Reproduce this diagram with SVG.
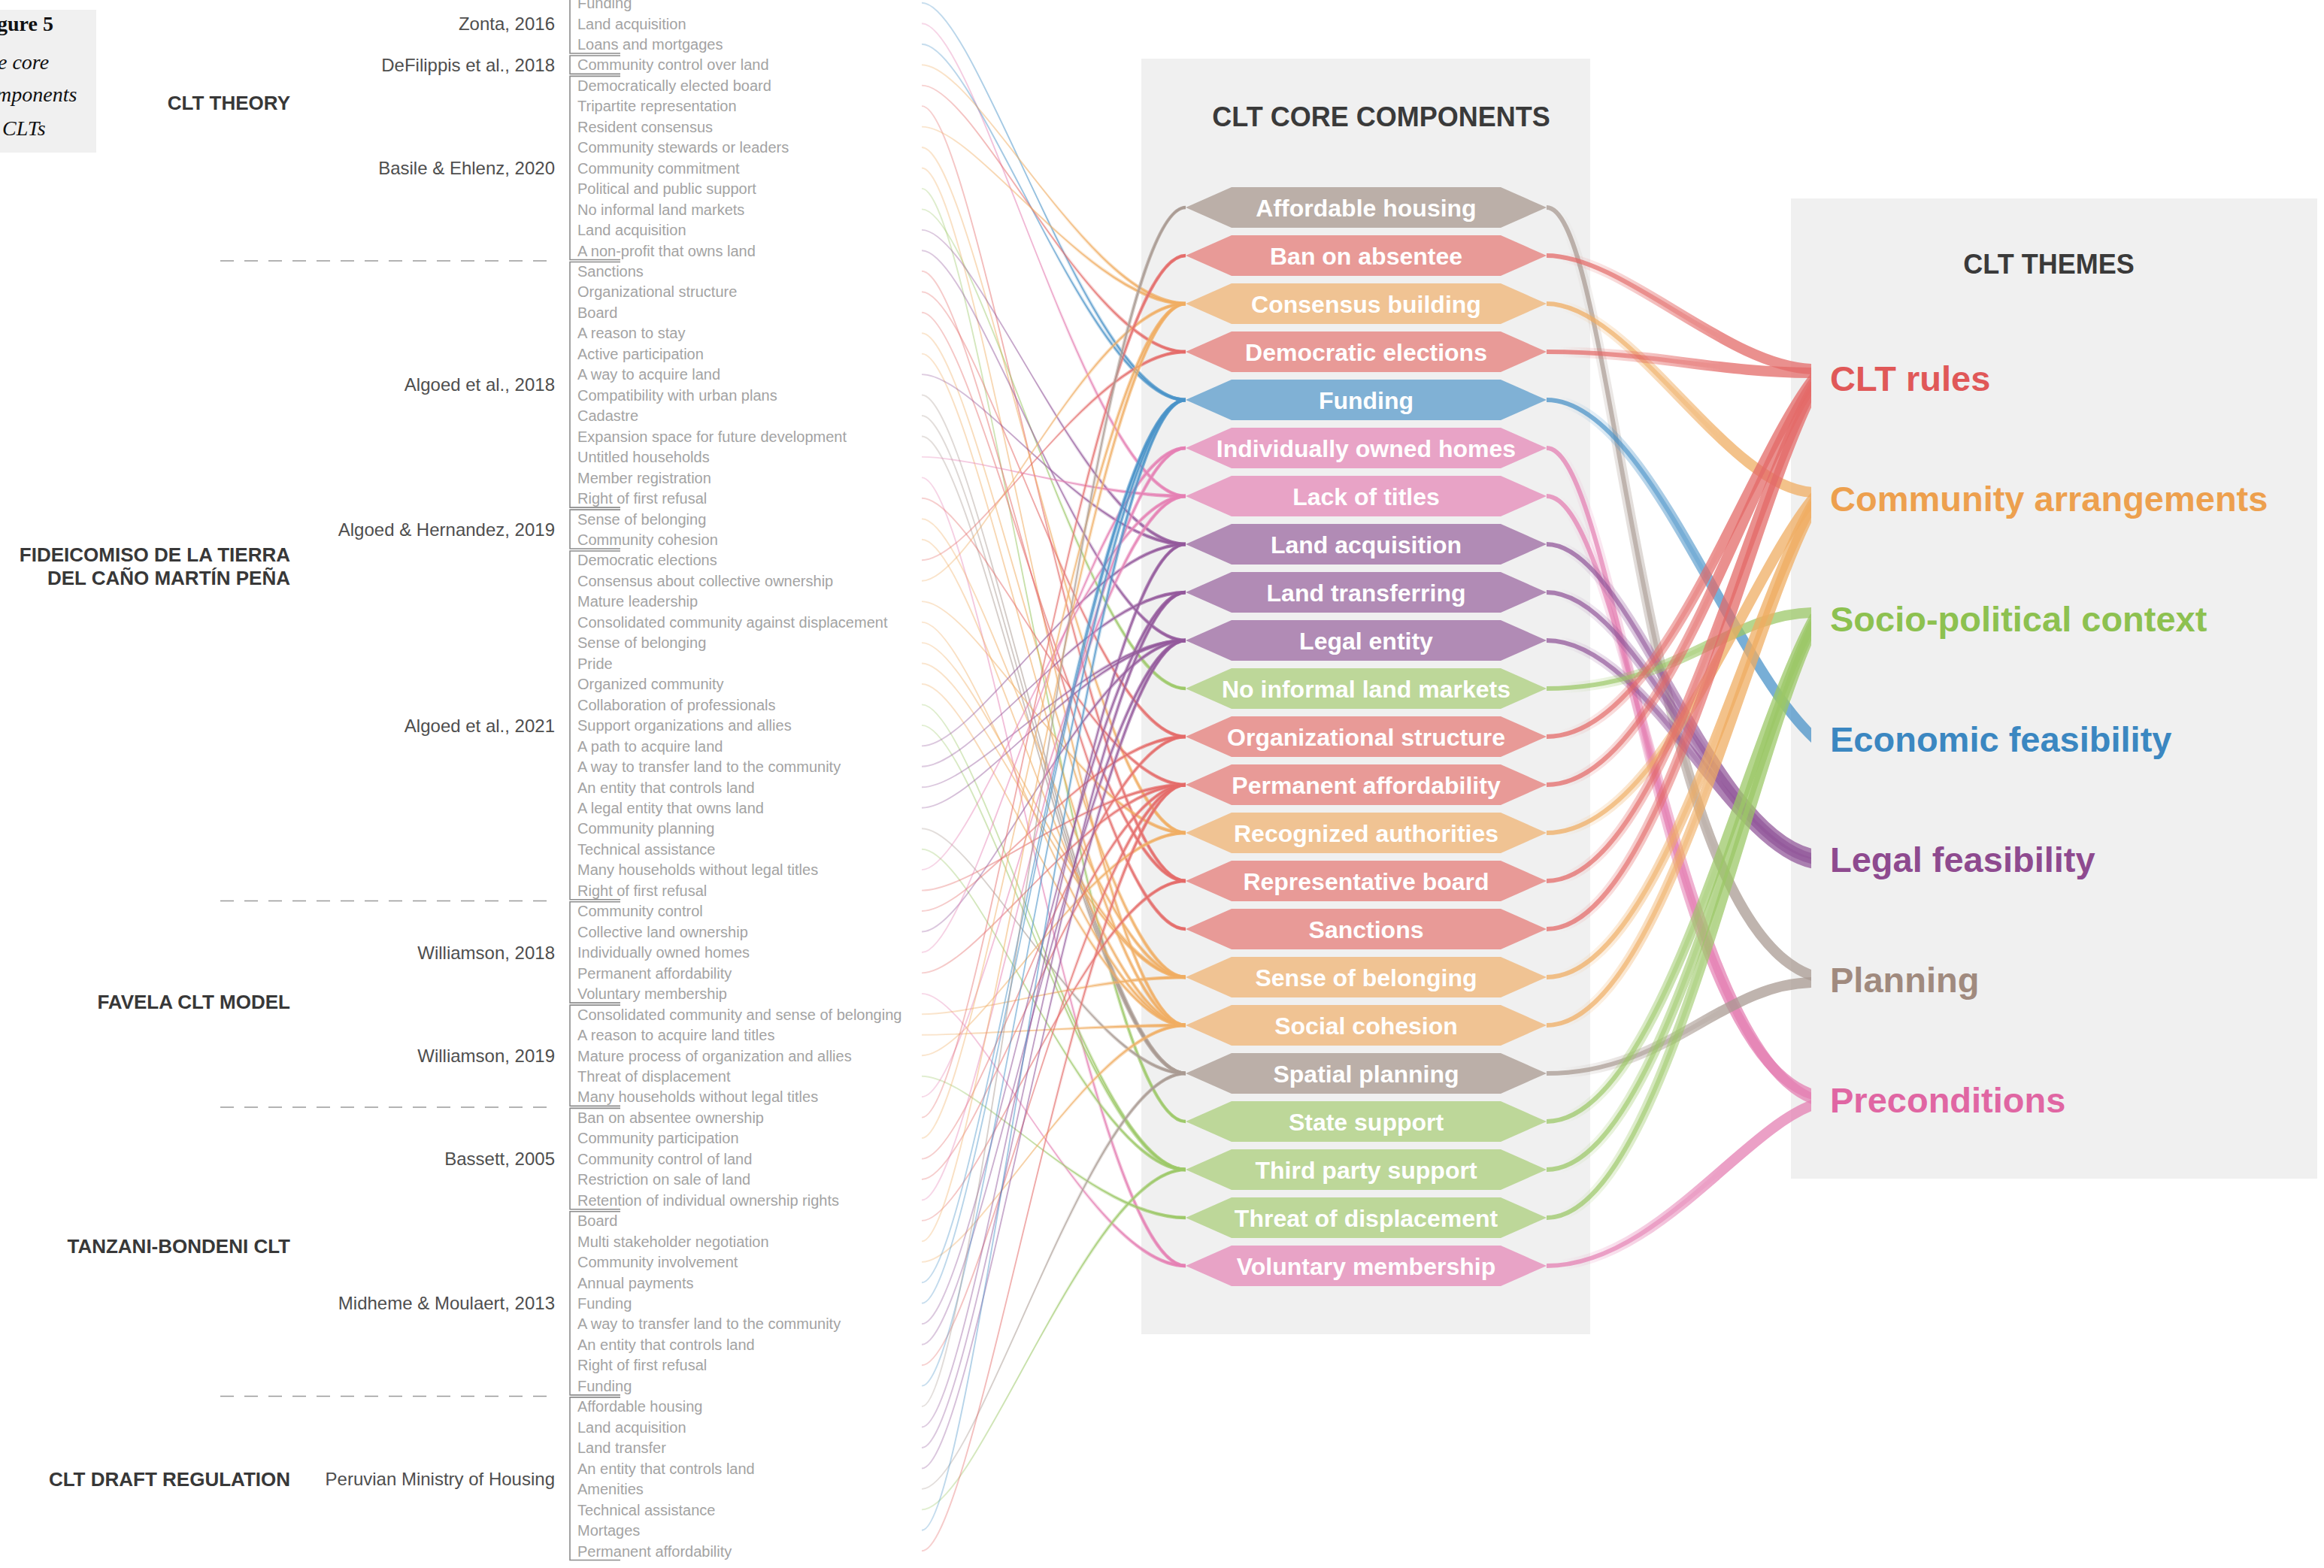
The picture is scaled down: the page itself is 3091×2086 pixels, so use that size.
<svg xmlns="http://www.w3.org/2000/svg" width="3091" height="2086" viewBox="0 0 3091 2086">
<defs>
<style>
.item{font-family:"Liberation Sans",Arial,sans-serif;font-size:20px;fill:#a3a3a3}
.ref{font-family:"Liberation Sans",Arial,sans-serif;font-size:24px;fill:#4e4e4e;text-anchor:end}
.case{font-family:"Liberation Sans",Arial,sans-serif;font-size:26px;font-weight:bold;fill:#383838;text-anchor:end}
.fig{font-family:"Liberation Serif","Times New Roman",serif;font-size:28px;fill:#111}
.bracket{fill:none;stroke:#8c8c8c;stroke-width:1.6}
.sep{stroke:#9a9a9a;stroke-width:1.6;stroke-dasharray:18 14}
.panel{fill:#f0f0f0}
.title{font-family:"Liberation Sans",Arial,sans-serif;font-size:36px;font-weight:bold;fill:#3a3a3a;text-anchor:middle}
.nlabel{font-family:"Liberation Sans",Arial,sans-serif;font-size:32px;font-weight:bold;fill:#fff;text-anchor:middle}
.theme{font-family:"Liberation Sans",Arial,sans-serif;font-size:47px;font-weight:bold}
.ln{fill:none}
.bandg{opacity:.74}
.bt{fill:none;stroke-width:6}
.bk{fill:none;stroke-width:14}
.f-red{fill:#e89a97}.f-orange{fill:#f0c393}.f-pink{fill:#e8a3c6}.f-purple{fill:#b18bb5}.f-blue{fill:#80b1d5}.f-green{fill:#bdd799}.f-taupe{fill:#bbafa8}
.l-red{stroke:url(#gl-red)}.l-orange{stroke:url(#gl-orange)}.l-pink{stroke:url(#gl-pink)}.l-purple{stroke:url(#gl-purple)}.l-blue{stroke:url(#gl-blue)}.l-green{stroke:url(#gl-green)}.l-taupe{stroke:url(#gl-taupe)}
.b-red{stroke:#e46a68}.b-orange{stroke:#f0ad62}.b-pink{stroke:#e57fb3}.b-purple{stroke:#93589b}.b-blue{stroke:#4a93c8}.b-green{stroke:#9cc867}.b-taupe{stroke:#a99a92}
</style>
<linearGradient id="gl-red" gradientUnits="userSpaceOnUse" x1="1226" y1="0" x2="1577" y2="0"><stop offset="0" stop-color="#e46a68" stop-opacity=".3"/><stop offset="1" stop-color="#e46a68" stop-opacity=".95"/></linearGradient>
<linearGradient id="gl-orange" gradientUnits="userSpaceOnUse" x1="1226" y1="0" x2="1577" y2="0"><stop offset="0" stop-color="#f0ad62" stop-opacity=".3"/><stop offset="1" stop-color="#f0ad62" stop-opacity=".95"/></linearGradient>
<linearGradient id="gl-pink" gradientUnits="userSpaceOnUse" x1="1226" y1="0" x2="1577" y2="0"><stop offset="0" stop-color="#e57fb3" stop-opacity=".3"/><stop offset="1" stop-color="#e57fb3" stop-opacity=".95"/></linearGradient>
<linearGradient id="gl-purple" gradientUnits="userSpaceOnUse" x1="1226" y1="0" x2="1577" y2="0"><stop offset="0" stop-color="#93589b" stop-opacity=".3"/><stop offset="1" stop-color="#93589b" stop-opacity=".95"/></linearGradient>
<linearGradient id="gl-blue" gradientUnits="userSpaceOnUse" x1="1226" y1="0" x2="1577" y2="0"><stop offset="0" stop-color="#4a93c8" stop-opacity=".3"/><stop offset="1" stop-color="#4a93c8" stop-opacity=".95"/></linearGradient>
<linearGradient id="gl-green" gradientUnits="userSpaceOnUse" x1="1226" y1="0" x2="1577" y2="0"><stop offset="0" stop-color="#9cc867" stop-opacity=".3"/><stop offset="1" stop-color="#9cc867" stop-opacity=".95"/></linearGradient>
<linearGradient id="gl-taupe" gradientUnits="userSpaceOnUse" x1="1226" y1="0" x2="1577" y2="0"><stop offset="0" stop-color="#a99a92" stop-opacity=".3"/><stop offset="1" stop-color="#a99a92" stop-opacity=".95"/></linearGradient>
<!-- fade-in masks that thicken links towards their end -->
<linearGradient id="fadeLeft" gradientUnits="userSpaceOnUse" x1="1380" y1="0" x2="1575" y2="0"><stop offset="0" stop-color="#000"/><stop offset="1" stop-color="#fff"/></linearGradient>
<mask id="mLeft" maskUnits="userSpaceOnUse" x="1200" y="0" width="400" height="2086"><rect x="1200" y="0" width="400" height="2086" fill="url(#fadeLeft)"/></mask>
<linearGradient id="fadeRight" gradientUnits="userSpaceOnUse" x1="2075" y1="0" x2="2290" y2="0"><stop offset="0" stop-color="#000"/><stop offset="1" stop-color="#fff"/></linearGradient>
<mask id="mRight" maskUnits="userSpaceOnUse" x="2000" y="0" width="500" height="2086"><rect x="2000" y="0" width="500" height="2086" fill="url(#fadeRight)"/></mask>
<clipPath id="clipR"><rect x="0" y="0" width="2409" height="2086"/></clipPath>
<path id="hex" d="M-240 0L-179-27H179L240 0L179 27H-179Z"/>
</defs>

<rect width="3091" height="2086" fill="#fff"/>

<!-- figure caption box -->
<g id="caption">
<rect class="panel" x="0" y="13" width="128" height="190"/>
<text class="fig" x="-4" y="41" font-weight="bold">gure 5</text>
<text class="fig" x="-3" y="92" font-style="italic">e core</text>
<text class="fig" x="-5" y="135" font-style="italic">mponents</text>
<text class="fig" x="3" y="180" font-style="italic">CLTs</text>
</g>

<!-- case labels -->
<g id="cases">
<text class="case" x="386" y="146">CLT THEORY</text>
<text class="case" x="386" y="746.5">FIDEICOMISO DE LA TIERRA</text>
<text class="case" x="386" y="777.5">DEL CAÑO MARTÍN PEÑA</text>
<text class="case" x="386" y="1342">FAVELA CLT MODEL</text>
<text class="case" x="386" y="1667">TANZANI-BONDENI CLT</text>
<text class="case" x="386" y="1977">CLT DRAFT REGULATION</text>
</g>

<!-- separators between cases -->
<g id="separators">
<line class="sep" x1="293" y1="347" x2="727" y2="347"/>
<line class="sep" x1="293" y1="1198.5" x2="727" y2="1198.5"/>
<line class="sep" x1="293" y1="1473" x2="727" y2="1473"/>
<line class="sep" x1="293" y1="1857.5" x2="727" y2="1857.5"/>
</g>

<!-- references -->
<g id="references">
<text class="ref" x="738" y="40">Zonta, 2016</text>
<text class="ref" x="738" y="94.8">DeFilippis et al., 2018</text>
<text class="ref" x="738" y="232">Basile &amp; Ehlenz, 2020</text>
<text class="ref" x="738" y="520.4">Algoed et al., 2018</text>
<text class="ref" x="738" y="712.6">Algoed &amp; Hernandez, 2019</text>
<text class="ref" x="738" y="973.5">Algoed et al., 2021</text>
<text class="ref" x="738" y="1275.6">Williamson, 2018</text>
<text class="ref" x="738" y="1412.9">Williamson, 2019</text>
<text class="ref" x="738" y="1550.2">Bassett, 2005</text>
<text class="ref" x="738" y="1742.4">Midheme &amp; Moulaert, 2013</text>
<text class="ref" x="738" y="1975.8">Peruvian Ministry of Housing</text>
</g>

<!-- brackets grouping the coded items per reference -->
<g id="brackets">
<path class="bracket" d="M825 -8H758V71H825"/>
<path class="bracket" d="M825 74H758V98.4H825"/>
<path class="bracket" d="M825 101.4H758V345.5H825"/>
<path class="bracket" d="M825 348.5H758V675.1H825"/>
<path class="bracket" d="M825 678.1H758V730H825"/>
<path class="bracket" d="M825 733H758V1196.8H825"/>
<path class="bracket" d="M825 1199.8H758V1334.1H825"/>
<path class="bracket" d="M825 1337.1H758V1471.4H825"/>
<path class="bracket" d="M825 1474.4H758V1608.7H825"/>
<path class="bracket" d="M825 1611.7H758V1855.9H825"/>
<path class="bracket" d="M825 1858.9H758V2075.5H825"/>
</g>

<!-- coded items -->
<g id="items">
<text class="item" x="768" y="11">Funding</text>
<text class="item" x="768" y="38.5">Land acquisition</text>
<text class="item" x="768" y="65.9">Loans and mortgages</text>
<text class="item" x="768" y="93.4">Community control over land</text>
<text class="item" x="768" y="120.8">Democratically elected board</text>
<text class="item" x="768" y="148.3">Tripartite representation</text>
<text class="item" x="768" y="175.8">Resident consensus</text>
<text class="item" x="768" y="203.2">Community stewards or leaders</text>
<text class="item" x="768" y="230.7">Community commitment</text>
<text class="item" x="768" y="258.1">Political and public support</text>
<text class="item" x="768" y="285.6">No informal land markets</text>
<text class="item" x="768" y="313.1">Land acquisition</text>
<text class="item" x="768" y="340.5">A non-profit that owns land</text>
<text class="item" x="768" y="368">Sanctions</text>
<text class="item" x="768" y="395.4">Organizational structure</text>
<text class="item" x="768" y="422.9">Board</text>
<text class="item" x="768" y="450.4">A reason to stay</text>
<text class="item" x="768" y="477.8">Active participation</text>
<text class="item" x="768" y="505.3">A way to acquire land</text>
<text class="item" x="768" y="532.7">Compatibility with urban plans</text>
<text class="item" x="768" y="560.2">Cadastre</text>
<text class="item" x="768" y="587.7">Expansion space for future development</text>
<text class="item" x="768" y="615.1">Untitled households</text>
<text class="item" x="768" y="642.6">Member registration</text>
<text class="item" x="768" y="670">Right of first refusal</text>
<text class="item" x="768" y="697.5">Sense of belonging</text>
<text class="item" x="768" y="725">Community cohesion</text>
<text class="item" x="768" y="752.4">Democratic elections</text>
<text class="item" x="768" y="779.9">Consensus about collective ownership</text>
<text class="item" x="768" y="807.3">Mature leadership</text>
<text class="item" x="768" y="834.8">Consolidated community against displacement</text>
<text class="item" x="768" y="862.3">Sense of belonging</text>
<text class="item" x="768" y="889.7">Pride</text>
<text class="item" x="768" y="917.2">Organized community</text>
<text class="item" x="768" y="944.6">Collaboration of professionals</text>
<text class="item" x="768" y="972.1">Support organizations and allies</text>
<text class="item" x="768" y="999.6">A path to acquire land</text>
<text class="item" x="768" y="1027">A way to transfer land to the community</text>
<text class="item" x="768" y="1054.5">An entity that controls land</text>
<text class="item" x="768" y="1081.9">A legal entity that owns land</text>
<text class="item" x="768" y="1109.4">Community planning</text>
<text class="item" x="768" y="1136.9">Technical assistance</text>
<text class="item" x="768" y="1164.3">Many households without legal titles</text>
<text class="item" x="768" y="1191.8">Right of first refusal</text>
<text class="item" x="768" y="1219.2">Community control</text>
<text class="item" x="768" y="1246.7">Collective land ownership</text>
<text class="item" x="768" y="1274.2">Individually owned homes</text>
<text class="item" x="768" y="1301.6">Permanent affordability</text>
<text class="item" x="768" y="1329.1">Voluntary membership</text>
<text class="item" x="768" y="1356.5">Consolidated community and sense of belonging</text>
<text class="item" x="768" y="1384">A reason to acquire land titles</text>
<text class="item" x="768" y="1411.5">Mature process of organization and allies</text>
<text class="item" x="768" y="1438.9">Threat of displacement</text>
<text class="item" x="768" y="1466.4">Many households without legal titles</text>
<text class="item" x="768" y="1493.8">Ban on absentee ownership</text>
<text class="item" x="768" y="1521.3">Community participation</text>
<text class="item" x="768" y="1548.8">Community control of land</text>
<text class="item" x="768" y="1576.2">Restriction on sale of land</text>
<text class="item" x="768" y="1603.7">Retention of individual ownership rights</text>
<text class="item" x="768" y="1631.1">Board</text>
<text class="item" x="768" y="1658.6">Multi stakeholder negotiation</text>
<text class="item" x="768" y="1686.1">Community involvement</text>
<text class="item" x="768" y="1713.5">Annual payments</text>
<text class="item" x="768" y="1741">Funding</text>
<text class="item" x="768" y="1768.4">A way to transfer land to the community</text>
<text class="item" x="768" y="1795.9">An entity that controls land</text>
<text class="item" x="768" y="1823.4">Right of first refusal</text>
<text class="item" x="768" y="1850.8">Funding</text>
<text class="item" x="768" y="1878.3">Affordable housing</text>
<text class="item" x="768" y="1905.7">Land acquisition</text>
<text class="item" x="768" y="1933.2">Land transfer</text>
<text class="item" x="768" y="1960.7">An entity that controls land</text>
<text class="item" x="768" y="1988.1">Amenities</text>
<text class="item" x="768" y="2015.6">Technical assistance</text>
<text class="item" x="768" y="2043">Mortages</text>
<text class="item" x="768" y="2070.5">Permanent affordability</text>
</g>

<!-- background panels -->
<rect id="panel-components" class="panel" x="1518" y="78" width="597" height="1697"/>
<rect id="panel-themes" class="panel" x="2382" y="264" width="700" height="1304"/>
<text class="title" x="1837" y="168">CLT CORE COMPONENTS</text>
<text class="title" x="2725" y="364">CLT THEMES</text>

<!-- connectors -->
<g id="connectors">
<g stroke-width="1.9">
<g id="item-links">
<path class="ln l-blue" d="M1226 3.8C1300 3.8 1450 532 1577 532"/>
<path class="ln l-pink" d="M1226 31.3C1300 31.3 1450 660 1577 660"/>
<path class="ln l-blue" d="M1226 58.7C1300 58.7 1450 532 1577 532"/>
<path class="ln l-orange" d="M1226 86.2C1300 86.2 1450 404 1577 404"/>
<path class="ln l-red" d="M1226 113.6C1300 113.6 1450 468 1577 468"/>
<path class="ln l-red" d="M1226 141.1C1300 141.1 1450 1172 1577 1172"/>
<path class="ln l-orange" d="M1226 168.6C1300 168.6 1450 404 1577 404"/>
<path class="ln l-orange" d="M1226 196C1300 196 1450 1108 1577 1108"/>
<path class="ln l-orange" d="M1226 223.5C1300 223.5 1450 1364 1577 1364"/>
<path class="ln l-green" d="M1226 250.9C1300 250.9 1450 1492 1577 1492"/>
<path class="ln l-green" d="M1226 278.4C1300 278.4 1450 916 1577 916"/>
<path class="ln l-purple" d="M1226 305.9C1300 305.9 1450 724 1577 724"/>
<path class="ln l-purple" d="M1226 333.3C1300 333.3 1450 852 1577 852"/>
<path class="ln l-red" d="M1226 360.8C1300 360.8 1450 1236 1577 1236"/>
<path class="ln l-red" d="M1226 388.2C1300 388.2 1450 980 1577 980"/>
<path class="ln l-red" d="M1226 415.7C1300 415.7 1450 1172 1577 1172"/>
<path class="ln l-orange" d="M1226 443.2C1300 443.2 1450 1300 1577 1300"/>
<path class="ln l-orange" d="M1226 470.6C1300 470.6 1450 1364 1577 1364"/>
<path class="ln l-purple" d="M1226 498.1C1300 498.1 1450 724 1577 724"/>
<path class="ln l-taupe" d="M1226 525.5C1300 525.5 1450 1428 1577 1428"/>
<path class="ln l-taupe" d="M1226 553C1300 553 1450 1428 1577 1428"/>
<path class="ln l-taupe" d="M1226 580.5C1300 580.5 1450 1428 1577 1428"/>
<path class="ln l-pink" d="M1226 607.9C1300 607.9 1450 660 1577 660"/>
<path class="ln l-pink" d="M1226 635.4C1300 635.4 1450 1684 1577 1684"/>
<path class="ln l-red" d="M1226 662.8C1300 662.8 1450 1044 1577 1044"/>
<path class="ln l-orange" d="M1226 690.3C1300 690.3 1450 1300 1577 1300"/>
<path class="ln l-orange" d="M1226 717.8C1300 717.8 1450 1364 1577 1364"/>
<path class="ln l-red" d="M1226 745.2C1300 745.2 1450 468 1577 468"/>
<path class="ln l-orange" d="M1226 772.7C1300 772.7 1450 404 1577 404"/>
<path class="ln l-orange" d="M1226 800.1C1300 800.1 1450 1108 1577 1108"/>
<path class="ln l-orange" d="M1226 827.6C1300 827.6 1450 1364 1577 1364"/>
<path class="ln l-orange" d="M1226 855.1C1300 855.1 1450 1300 1577 1300"/>
<path class="ln l-orange" d="M1226 882.5C1300 882.5 1450 1300 1577 1300"/>
<path class="ln l-orange" d="M1226 910C1300 910 1450 1364 1577 1364"/>
<path class="ln l-green" d="M1226 937.4C1300 937.4 1450 1556 1577 1556"/>
<path class="ln l-green" d="M1226 964.9C1300 964.9 1450 1556 1577 1556"/>
<path class="ln l-purple" d="M1226 992.4C1300 992.4 1450 724 1577 724"/>
<path class="ln l-purple" d="M1226 1019.8C1300 1019.8 1450 788 1577 788"/>
<path class="ln l-purple" d="M1226 1047.3C1300 1047.3 1450 852 1577 852"/>
<path class="ln l-purple" d="M1226 1074.7C1300 1074.7 1450 852 1577 852"/>
<path class="ln l-taupe" d="M1226 1102.2C1300 1102.2 1450 1428 1577 1428"/>
<path class="ln l-green" d="M1226 1129.7C1300 1129.7 1450 1556 1577 1556"/>
<path class="ln l-pink" d="M1226 1157.1C1300 1157.1 1450 660 1577 660"/>
<path class="ln l-red" d="M1226 1184.6C1300 1184.6 1450 1044 1577 1044"/>
<path class="ln l-red" d="M1226 1212C1300 1212 1450 980 1577 980"/>
<path class="ln l-purple" d="M1226 1239.5C1300 1239.5 1450 852 1577 852"/>
<path class="ln l-pink" d="M1226 1267C1300 1267 1450 596 1577 596"/>
<path class="ln l-red" d="M1226 1294.4C1300 1294.4 1450 1044 1577 1044"/>
<path class="ln l-pink" d="M1226 1321.9C1300 1321.9 1450 1684 1577 1684"/>
<path class="ln l-orange" d="M1226 1349.3C1300 1349.3 1450 1300 1577 1300"/>
<path class="ln l-orange" d="M1226 1376.8C1300 1376.8 1450 1364 1577 1364"/>
<path class="ln l-orange" d="M1226 1404.3C1300 1404.3 1450 1108 1577 1108"/>
<path class="ln l-green" d="M1226 1431.7C1300 1431.7 1450 1620 1577 1620"/>
<path class="ln l-pink" d="M1226 1459.2C1300 1459.2 1450 660 1577 660"/>
<path class="ln l-red" d="M1226 1486.6C1300 1486.6 1450 340 1577 340"/>
<path class="ln l-orange" d="M1226 1514.1C1300 1514.1 1450 404 1577 404"/>
<path class="ln l-red" d="M1226 1541.6C1300 1541.6 1450 980 1577 980"/>
<path class="ln l-red" d="M1226 1569C1300 1569 1450 1044 1577 1044"/>
<path class="ln l-pink" d="M1226 1596.5C1300 1596.5 1450 596 1577 596"/>
<path class="ln l-red" d="M1226 1623.9C1300 1623.9 1450 1172 1577 1172"/>
<path class="ln l-orange" d="M1226 1651.4C1300 1651.4 1450 404 1577 404"/>
<path class="ln l-orange" d="M1226 1678.9C1300 1678.9 1450 1364 1577 1364"/>
<path class="ln l-blue" d="M1226 1706.3C1300 1706.3 1450 532 1577 532"/>
<path class="ln l-blue" d="M1226 1733.8C1300 1733.8 1450 532 1577 532"/>
<path class="ln l-purple" d="M1226 1761.2C1300 1761.2 1450 788 1577 788"/>
<path class="ln l-purple" d="M1226 1788.7C1300 1788.7 1450 852 1577 852"/>
<path class="ln l-red" d="M1226 1816.2C1300 1816.2 1450 1044 1577 1044"/>
<path class="ln l-blue" d="M1226 1843.6C1300 1843.6 1450 532 1577 532"/>
<path class="ln l-taupe" d="M1226 1871.1C1300 1871.1 1450 276 1577 276"/>
<path class="ln l-purple" d="M1226 1898.5C1300 1898.5 1450 724 1577 724"/>
<path class="ln l-purple" d="M1226 1926C1300 1926 1450 788 1577 788"/>
<path class="ln l-purple" d="M1226 1953.5C1300 1953.5 1450 852 1577 852"/>
<path class="ln l-taupe" d="M1226 1980.9C1300 1980.9 1450 1428 1577 1428"/>
<path class="ln l-green" d="M1226 2008.4C1300 2008.4 1450 1556 1577 1556"/>
<path class="ln l-blue" d="M1226 2035.8C1300 2035.8 1450 532 1577 532"/>
<path class="ln l-red" d="M1226 2063.3C1300 2063.3 1450 1044 1577 1044"/>
</g>
</g>
<!-- thicker copy of the item links, faded in towards the components -->
<use href="#item-links" stroke-width="4.6" mask="url(#mLeft)"/>

<g id="theme-links" clip-path="url(#clipR)">
<g class="bandg"><path class="bt b-taupe" d="M2057 276C2150 276 2180 1230 2414 1299"/><path class="bk b-taupe" mask="url(#mRight)" d="M2057 276C2150 276 2180 1230 2414 1299"/></g>
<g class="bandg"><path class="bt b-red" d="M2057 340C2160 340 2300 491 2414 491"/><path class="bk b-red" mask="url(#mRight)" d="M2057 340C2160 340 2300 491 2414 491"/></g>
<g class="bandg"><path class="bt b-orange" d="M2057 404C2170 404 2300 655 2414 655"/><path class="bk b-orange" mask="url(#mRight)" d="M2057 404C2170 404 2300 655 2414 655"/></g>
<g class="bandg"><path class="bt b-red" d="M2057 468C2200 468 2280 496 2414 496"/><path class="bk b-red" mask="url(#mRight)" d="M2057 468C2200 468 2280 496 2414 496"/></g>
<g class="bandg"><path class="bt b-blue" d="M2057 532C2190 532 2300 880 2414 983"/><path class="bk b-blue" mask="url(#mRight)" d="M2057 532C2190 532 2300 880 2414 983"/></g>
<g class="bandg"><path class="bt b-pink" d="M2057 596C2150 596 2210 1400 2414 1457"/><path class="bk b-pink" mask="url(#mRight)" d="M2057 596C2150 596 2210 1400 2414 1457"/></g>
<g class="bandg"><path class="bt b-pink" d="M2057 660C2160 660 2230 1400 2414 1463"/><path class="bk b-pink" mask="url(#mRight)" d="M2057 660C2160 660 2230 1400 2414 1463"/></g>
<g class="bandg"><path class="bt b-purple" d="M2057 724C2170 724 2270 1110 2414 1137"/><path class="bk b-purple" mask="url(#mRight)" d="M2057 724C2170 724 2270 1110 2414 1137"/></g>
<g class="bandg"><path class="bt b-purple" d="M2057 788C2180 788 2285 1120 2414 1143"/><path class="bk b-purple" mask="url(#mRight)" d="M2057 788C2180 788 2285 1120 2414 1143"/></g>
<g class="bandg"><path class="bt b-purple" d="M2057 852C2190 852 2300 1130 2414 1149"/><path class="bk b-purple" mask="url(#mRight)" d="M2057 852C2190 852 2300 1130 2414 1149"/></g>
<g class="bandg"><path class="bt b-green" d="M2057 916C2230 916 2300 815 2414 815"/><path class="bk b-green" mask="url(#mRight)" d="M2057 916C2230 916 2300 815 2414 815"/></g>
<g class="bandg"><path class="bt b-red" d="M2057 980C2210 980 2320 621 2414 501"/><path class="bk b-red" mask="url(#mRight)" d="M2057 980C2210 980 2320 621 2414 501"/></g>
<g class="bandg"><path class="bt b-red" d="M2057 1044C2210 1044 2320 640 2414 506"/><path class="bk b-red" mask="url(#mRight)" d="M2057 1044C2210 1044 2320 640 2414 506"/></g>
<g class="bandg"><path class="bt b-orange" d="M2057 1108C2210 1108 2320 772 2414 660"/><path class="bk b-orange" mask="url(#mRight)" d="M2057 1108C2210 1108 2320 772 2414 660"/></g>
<g class="bandg"><path class="bt b-red" d="M2057 1172C2210 1172 2320 676 2414 511"/><path class="bk b-red" mask="url(#mRight)" d="M2057 1172C2210 1172 2320 676 2414 511"/></g>
<g class="bandg"><path class="bt b-red" d="M2057 1236C2210 1236 2320 696 2414 516"/><path class="bk b-red" mask="url(#mRight)" d="M2057 1236C2210 1236 2320 696 2414 516"/></g>
<g class="bandg"><path class="bt b-orange" d="M2057 1300C2210 1300 2320 824 2414 665"/><path class="bk b-orange" mask="url(#mRight)" d="M2057 1300C2210 1300 2320 824 2414 665"/></g>
<g class="bandg"><path class="bt b-orange" d="M2057 1364C2210 1364 2320 843 2414 670"/><path class="bk b-orange" mask="url(#mRight)" d="M2057 1364C2210 1364 2320 843 2414 670"/></g>
<g class="bandg"><path class="bt b-taupe" d="M2057 1428C2220 1428 2290 1307 2414 1307"/><path class="bk b-taupe" mask="url(#mRight)" d="M2057 1428C2220 1428 2290 1307 2414 1307"/></g>
<g class="bandg"><path class="bt b-green" d="M2057 1492C2210 1492 2320 988 2414 820"/><path class="bk b-green" mask="url(#mRight)" d="M2057 1492C2210 1492 2320 988 2414 820"/></g>
<g class="bandg"><path class="bt b-green" d="M2057 1556C2210 1556 2320 1008 2414 825"/><path class="bk b-green" mask="url(#mRight)" d="M2057 1556C2210 1556 2320 1008 2414 825"/></g>
<g class="bandg"><path class="bt b-green" d="M2057 1620C2210 1620 2320 1027 2414 830"/><path class="bk b-green" mask="url(#mRight)" d="M2057 1620C2210 1620 2320 1027 2414 830"/></g>
<g class="bandg"><path class="bt b-pink" d="M2057 1684C2200 1684 2320 1500 2414 1469"/><path class="bk b-pink" mask="url(#mRight)" d="M2057 1684C2200 1684 2320 1500 2414 1469"/></g>
</g>
</g>

<!-- core components -->
<g id="node-affordable-housing" transform="translate(1817 276)"><use href="#hex" class="f-taupe"/><text class="nlabel" y="11.5">Affordable housing</text></g>
<g id="node-ban-on-absentee" transform="translate(1817 340)"><use href="#hex" class="f-red"/><text class="nlabel" y="11.5">Ban on absentee</text></g>
<g id="node-consensus-building" transform="translate(1817 404)"><use href="#hex" class="f-orange"/><text class="nlabel" y="11.5">Consensus building</text></g>
<g id="node-democratic-elections" transform="translate(1817 468)"><use href="#hex" class="f-red"/><text class="nlabel" y="11.5">Democratic elections</text></g>
<g id="node-funding" transform="translate(1817 532)"><use href="#hex" class="f-blue"/><text class="nlabel" y="11.5">Funding</text></g>
<g id="node-individually-owned-homes" transform="translate(1817 596)"><use href="#hex" class="f-pink"/><text class="nlabel" y="11.5">Individually owned homes</text></g>
<g id="node-lack-of-titles" transform="translate(1817 660)"><use href="#hex" class="f-pink"/><text class="nlabel" y="11.5">Lack of titles</text></g>
<g id="node-land-acquisition" transform="translate(1817 724)"><use href="#hex" class="f-purple"/><text class="nlabel" y="11.5">Land acquisition</text></g>
<g id="node-land-transferring" transform="translate(1817 788)"><use href="#hex" class="f-purple"/><text class="nlabel" y="11.5">Land transferring</text></g>
<g id="node-legal-entity" transform="translate(1817 852)"><use href="#hex" class="f-purple"/><text class="nlabel" y="11.5">Legal entity</text></g>
<g id="node-no-informal-land-markets" transform="translate(1817 916)"><use href="#hex" class="f-green"/><text class="nlabel" y="11.5">No informal land markets</text></g>
<g id="node-organizational-structure" transform="translate(1817 980)"><use href="#hex" class="f-red"/><text class="nlabel" y="11.5">Organizational structure</text></g>
<g id="node-permanent-affordability" transform="translate(1817 1044)"><use href="#hex" class="f-red"/><text class="nlabel" y="11.5">Permanent affordability</text></g>
<g id="node-recognized-authorities" transform="translate(1817 1108)"><use href="#hex" class="f-orange"/><text class="nlabel" y="11.5">Recognized authorities</text></g>
<g id="node-representative-board" transform="translate(1817 1172)"><use href="#hex" class="f-red"/><text class="nlabel" y="11.5">Representative board</text></g>
<g id="node-sanctions" transform="translate(1817 1236)"><use href="#hex" class="f-red"/><text class="nlabel" y="11.5">Sanctions</text></g>
<g id="node-sense-of-belonging" transform="translate(1817 1300)"><use href="#hex" class="f-orange"/><text class="nlabel" y="11.5">Sense of belonging</text></g>
<g id="node-social-cohesion" transform="translate(1817 1364)"><use href="#hex" class="f-orange"/><text class="nlabel" y="11.5">Social cohesion</text></g>
<g id="node-spatial-planning" transform="translate(1817 1428)"><use href="#hex" class="f-taupe"/><text class="nlabel" y="11.5">Spatial planning</text></g>
<g id="node-state-support" transform="translate(1817 1492)"><use href="#hex" class="f-green"/><text class="nlabel" y="11.5">State support</text></g>
<g id="node-third-party-support" transform="translate(1817 1556)"><use href="#hex" class="f-green"/><text class="nlabel" y="11.5">Third party support</text></g>
<g id="node-threat-of-displacement" transform="translate(1817 1620)"><use href="#hex" class="f-green"/><text class="nlabel" y="11.5">Threat of displacement</text></g>
<g id="node-voluntary-membership" transform="translate(1817 1684)"><use href="#hex" class="f-pink"/><text class="nlabel" y="11.5">Voluntary membership</text></g>

<!-- themes -->
<g id="theme-clt-rules"><text class="theme" x="2434" y="520" fill="#e05858">CLT rules</text></g>
<g id="theme-community-arrangements"><text class="theme" x="2434" y="680" fill="#eda04e">Community arrangements</text></g>
<g id="theme-socio-political-context"><text class="theme" x="2434" y="840" fill="#8dc150">Socio-political context</text></g>
<g id="theme-economic-feasibility"><text class="theme" x="2434" y="1000" fill="#3b87c1">Economic feasibility</text></g>
<g id="theme-legal-feasibility"><text class="theme" x="2434" y="1160" fill="#8e4a8f">Legal feasibility</text></g>
<g id="theme-planning"><text class="theme" x="2434" y="1320" fill="#a08a7e">Planning</text></g>
<g id="theme-preconditions"><text class="theme" x="2434" y="1480" fill="#e066a3">Preconditions</text></g>
</svg>
